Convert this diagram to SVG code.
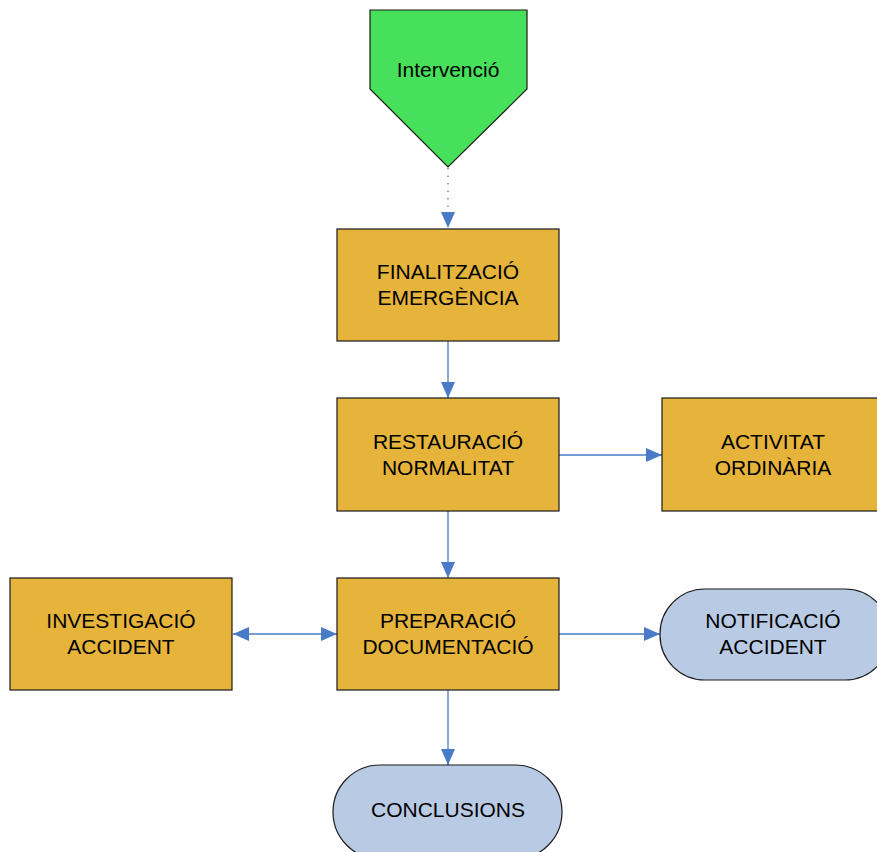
<svg xmlns="http://www.w3.org/2000/svg" width="877" height="852" viewBox="0 0 877 852">
<style>
.box{fill:#E6B43A;stroke:#1a1a1a;stroke-width:1.2}
.term{fill:#B9CBE4;stroke:#1a1a1a;stroke-width:1.2}
.start{fill:#47E05A;stroke:#1a1a1a;stroke-width:1.2}
.lbl{font-family:"Liberation Sans",Arial,sans-serif;font-size:21px;fill:#000;text-anchor:middle}
.conn{stroke:#4A7BC8;stroke-width:1.3;fill:none}
</style>
<defs>
<marker id="ah" viewBox="0 0 16 14" refX="16" refY="7" markerWidth="16" markerHeight="14" markerUnits="userSpaceOnUse" orient="auto-start-reverse">
<path d="M0,0 L16,7 L0,14 Z" fill="#4A7BC8"/>
</marker>
</defs>
<rect width="877" height="852" fill="#fff"/>
<g id="connectors">
<line class="conn" x1="448" y1="168" x2="448" y2="228" stroke-dasharray="1.5,6" marker-end="url(#ah)"/>
<line class="conn" x1="448" y1="341" x2="448" y2="398" marker-end="url(#ah)"/>
<line class="conn" x1="559" y1="455" x2="662" y2="455" marker-end="url(#ah)"/>
<line class="conn" x1="448" y1="511" x2="448" y2="578" marker-end="url(#ah)"/>
<line class="conn" x1="233" y1="634" x2="337" y2="634" marker-start="url(#ah)" marker-end="url(#ah)"/>
<line class="conn" x1="559" y1="634" x2="660" y2="634" marker-end="url(#ah)"/>
<line class="conn" x1="448" y1="690" x2="448" y2="765" marker-end="url(#ah)"/>
</g>
<g id="intervencio">
<path class="start" d="M370,10 L527,10 L527,89 L448,167 L370,89 Z"/>
<text class="lbl" x="448" y="77">Intervenció</text>
</g>
<g id="finalitzacio">
<rect class="box" x="337" y="229" width="222" height="112"/>
<text class="lbl" x="448" y="279">FINALITZACIÓ</text>
<text class="lbl" x="448" y="305">EMERGÈNCIA</text>
</g>
<g id="restauracio">
<rect class="box" x="337" y="398" width="222" height="113"/>
<text class="lbl" x="448" y="449">RESTAURACIÓ</text>
<text class="lbl" x="448" y="475">NORMALITAT</text>
</g>
<g id="activitat">
<rect class="box" x="662" y="398" width="226" height="113"/>
<text class="lbl" x="773" y="449">ACTIVITAT</text>
<text class="lbl" x="773" y="475">ORDINÀRIA</text>
</g>
<g id="investigacio">
<rect class="box" x="10" y="578" width="222" height="112"/>
<text class="lbl" x="121" y="628">INVESTIGACIÓ</text>
<text class="lbl" x="121" y="654">ACCIDENT</text>
</g>
<g id="preparacio">
<rect class="box" x="337" y="578" width="222" height="112"/>
<text class="lbl" x="448" y="628">PREPARACIÓ</text>
<text class="lbl" x="448" y="654">DOCUMENTACIÓ</text>
</g>
<g id="notificacio">
<rect class="term" x="660" y="589" width="230" height="91" rx="45" ry="45"/>
<text class="lbl" x="773" y="628">NOTIFICACIÓ</text>
<text class="lbl" x="773" y="654">ACCIDENT</text>
</g>
<g id="conclusions">
<rect class="term" x="333" y="765" width="229" height="94" rx="47" ry="47"/>
<text class="lbl" x="448" y="817">CONCLUSIONS</text>
</g>
</svg>
